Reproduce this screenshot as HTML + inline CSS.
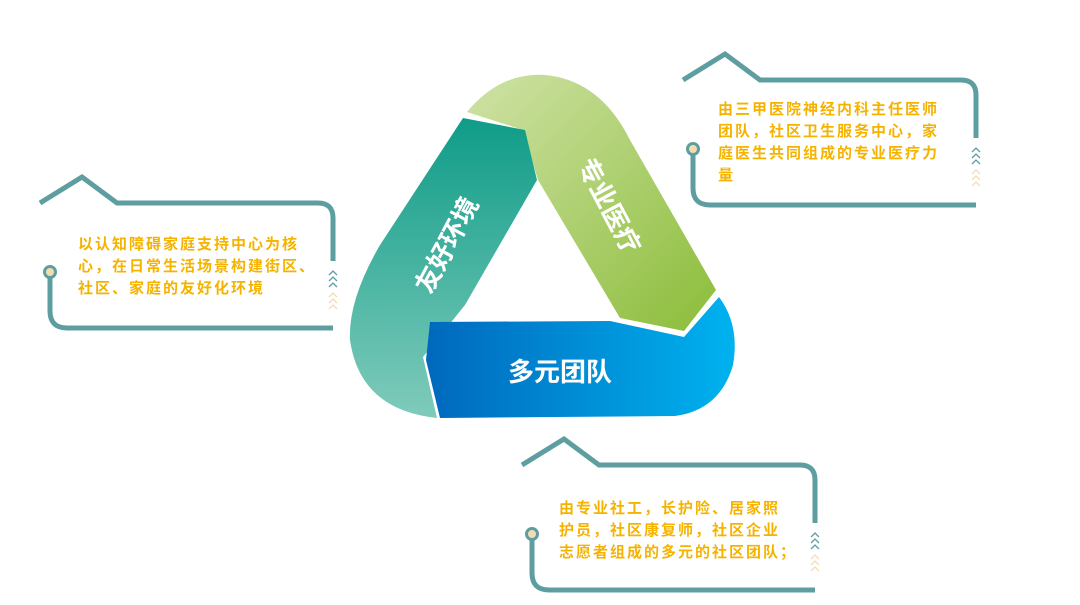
<!DOCTYPE html>
<html><head><meta charset="utf-8"><style>
html,body{margin:0;padding:0;background:#fff;width:1080px;height:605px;overflow:hidden}
svg text{font-family:"Liberation Sans","Noto Sans CJK SC",sans-serif;font-weight:bold}
</style></head><body>
<svg width="1080" height="605" viewBox="0 0 1080 605" xmlns="http://www.w3.org/2000/svg">
<defs>
<linearGradient id="gG" x1="0" y1="0" x2="1" y2="1"><stop offset="0" stop-color="#cfe2a6"/><stop offset="1" stop-color="#8cbd3a"/></linearGradient>
<linearGradient id="gT" x1="0" y1="0" x2="0" y2="1"><stop offset="0" stop-color="#0f9c88"/><stop offset="1" stop-color="#80cbbb"/></linearGradient>
<linearGradient id="gB" x1="0" y1="0" x2="1" y2="0"><stop offset="0" stop-color="#0068bd"/><stop offset="1" stop-color="#00b2ef"/></linearGradient>
<g id="frame" fill="none" stroke="#5e9ea0" stroke-width="5" stroke-linecap="butt">
<path d="M0 0 L42 -26 L77 0 L278 0 Q293 0 293 15 L293 58"/>
<path d="M10 69 L10 108 Q10 125 27 125 L293 125"/>
<circle cx="10" cy="69" r="5.5" fill="#f3ddb0" stroke-width="3"/>
<g stroke-width="1.3">
<path d="M289 72 l4 -4 l4 4 M289 78 l4 -4 l4 4 M289 84 l4 -4 l4 4"/>
<path d="M289 94 l4 -4 l4 4 M289 100 l4 -4 l4 4 M289 106 l4 -4 l4 4" stroke="#f6dcb5"/>
</g>
</g>
</defs>
<path d="M467 112 Q500 72 545 75 Q600 80 630 140 L716 290 L684 331 L620 318 L538 180 L523 130 Z" fill="url(#gG)"/>
<path d="M463 118 L525 130 L537 180 L465 305 L423 357 L437 418 Q360 410 350 340 Q348 300 380 245 Z" fill="url(#gT)"/>
<path d="M430 322 L610 321 L684 337 L719 297 Q740 325 733 365 Q720 410 675 416 L440 418 L426 360 Z" fill="url(#gB)"/>
<text x="447" y="245" font-size="26" fill="#fff" text-anchor="middle" dominant-baseline="central" transform="rotate(-62 447 245)">友好环境</text>
<text x="609" y="206" font-size="26" fill="#fff" text-anchor="middle" dominant-baseline="central" transform="rotate(62 609 206)">专业医疗</text>
<text x="560" y="372" font-size="26" fill="#fff" text-anchor="middle" dominant-baseline="central">多元团队</text>
<use href="#frame" transform="translate(683,80)"/>
<use href="#frame" transform="translate(40,203)"/>
<use href="#frame" transform="translate(522,465)"/>
<g font-size="15" fill="#f5b300" letter-spacing="2">
<text x="718" y="114">由三甲医院神经内科主任医师</text>
<text x="718" y="136">团队，社区卫生服务中心，家</text>
<text x="718" y="158">庭医生共同组成的专业医疗力</text>
<text x="718" y="180">量</text>
<text x="78" y="249">以认知障碍家庭支持中心为核</text>
<text x="78" y="271">心，在日常生活场景构建街区、</text>
<text x="78" y="293">社区、家庭的友好化环境</text>
<text x="559" y="513">由专业社工，长护险、居家照</text>
<text x="559" y="535">护员，社区康复师，社区企业</text>
<text x="559" y="557">志愿者组成的多元的社区团队；</text>
</g>
</svg>
</body></html>
